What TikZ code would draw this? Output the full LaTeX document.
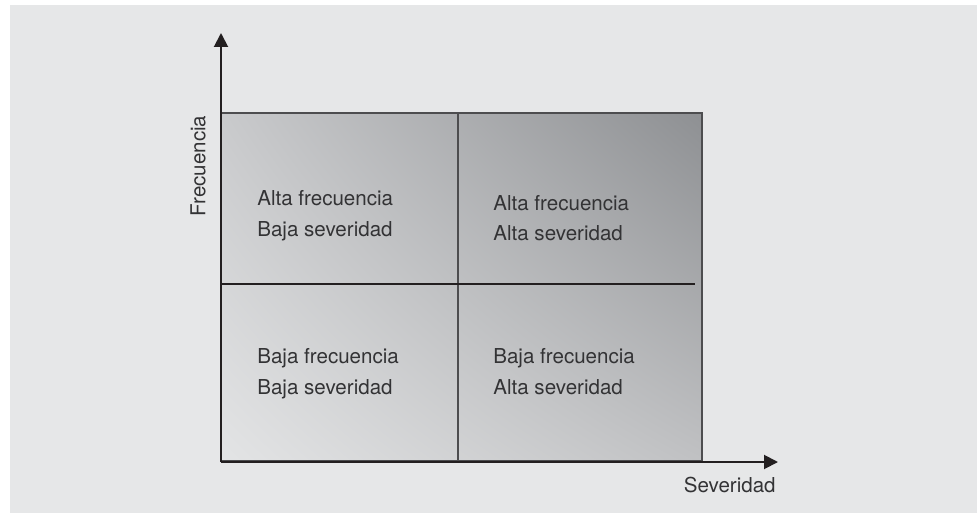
\documentclass[tikz,border=0pt]{standalone}
\usepackage{fontspec}
\setmainfont{TeX Gyre Heros}
\usetikzlibrary{arrows.meta,shadings}
\definecolor{fondo}{HTML}{E6E7E8}
\definecolor{linea}{HTML}{231F20}
\definecolor{marco}{HTML}{4D4D4F}
\definecolor{texto}{HTML}{333335}
\definecolor{gll}{HTML}{E3E4E5}
\definecolor{gul}{HTML}{C9CACC}
\definecolor{glr}{HTML}{C0C1C3}
\definecolor{gur}{HTML}{8E9093}
\begin{document}
\begin{tikzpicture}[x=0.02cm,y=-0.02cm,
    txt/.style={anchor=base west, align=left, inner sep=0pt, text=texto,
      font=\fontsize{11.7}{17.5}\selectfont},
    eje/.style={draw=linea, line width=1.1pt,
      -{Triangle[length=0.28cm,width=0.28cm]}}]
  \useasboundingbox (0,0) rectangle (977,513);
  \fill[fondo] (10,5) rectangle (977,513);
  % matriz
  \shade[lower left=gll, upper left=gul, lower right=glr, upper right=gur]
    (221,113) rectangle (702,461);
  \draw[marco, line width=0.85pt] (221,113) rectangle (702,461);
  \draw[marco, line width=0.8pt] (458,113) -- (458,461);
  \draw[linea, line width=0.9pt] (221,284) -- (695,284);
  % ejes
  \coordinate (o) at (221,462);
  \coordinate (ytop) at (221,33);
  \coordinate (xend) at (778,462);
  \draw[eje] (o) -- (ytop);
  \draw[eje] (o) -- (xend);
  \node[rotate=90, inner sep=0pt, text=texto, font=\fontsize{11.7}{17}\selectfont] (frec) at (198,166) {Frecuencia};
  \node[anchor=base east, inner sep=0pt, text=texto, font=\fontsize{11.7}{17}\selectfont] (sev) at (776,492) {Severidad};
  % cuadrantes
  \node[txt] (q0) at (257,236) {Alta frecuencia\\Baja severidad};
  \node[txt] (q1) at (493,241) {Alta frecuencia\\Alta severidad};
  \node[txt] (q2) at (257,394) {Baja frecuencia\\Baja severidad};
  \node[txt] (q3) at (493,394) {Baja frecuencia\\Alta severidad};
\end{tikzpicture}
\end{document}
